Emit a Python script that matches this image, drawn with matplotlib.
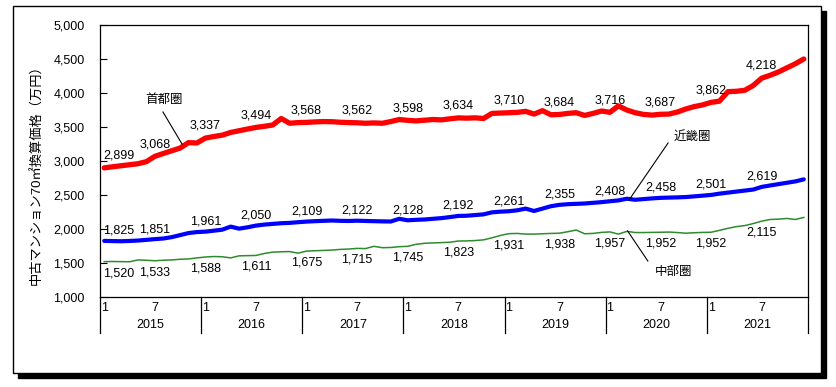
import numpy as np
import matplotlib.pyplot as plt
from matplotlib.patches import Rectangle

plt.rcParams['font.family'] = ['Liberation Sans', 'Noto Sans CJK JP', 'DejaVu Sans']

# monthly prices Jan 2015 - Dec 2021 (万円)
years = ['2015', '2016', '2017', '2018', '2019', '2020', '2021']

shutoken = [2899, 2915, 2930, 2945, 2960, 2990, 3068, 3110, 3150, 3190, 3270, 3265,
            3337, 3360, 3380, 3420, 3445, 3470, 3494, 3510, 3530, 3625, 3555, 3565,
            3568, 3575, 3580, 3578, 3570, 3565, 3562, 3555, 3560, 3555, 3580, 3610,
            3598, 3590, 3600, 3610, 3605, 3620, 3634, 3630, 3635, 3625, 3700, 3705,
            3710, 3715, 3730, 3690, 3740, 3680, 3684, 3700, 3710, 3670, 3700, 3735,
            3716, 3810, 3750, 3710, 3685, 3675, 3687, 3690, 3720, 3765, 3800, 3825,
            3862, 3880, 4020, 4025, 4040, 4110, 4218, 4260, 4310, 4370, 4430, 4500]

kinki = [1825, 1822, 1820, 1824, 1830, 1840, 1851, 1860, 1880, 1910, 1940, 1955,
         1961, 1975, 1990, 2035, 2005, 2025, 2050, 2065, 2075, 2085, 2090, 2100,
         2109, 2115, 2120, 2125, 2120, 2118, 2122, 2118, 2115, 2112, 2110, 2150,
         2128, 2135, 2140, 2150, 2160, 2175, 2192, 2195, 2205, 2215, 2245, 2255,
         2261, 2275, 2300, 2265, 2300, 2335, 2355, 2365, 2370, 2375, 2385, 2395,
         2408, 2420, 2445, 2430, 2440, 2450, 2458, 2462, 2465, 2470, 2480, 2490,
         2501, 2520, 2535, 2550, 2565, 2580, 2619, 2640, 2660, 2680, 2700, 2730]

chubu = [1520, 1522, 1520, 1518, 1545, 1540, 1533, 1540, 1545, 1555, 1560, 1575,
         1588, 1595, 1592, 1575, 1605, 1608, 1611, 1640, 1660, 1665, 1668, 1645,
         1675, 1680, 1685, 1690, 1700, 1705, 1715, 1712, 1745, 1725, 1728, 1740,
         1745, 1775, 1790, 1795, 1800, 1805, 1823, 1825, 1830, 1840, 1870, 1905,
         1931, 1935, 1925, 1925, 1930, 1935, 1938, 1960, 1985, 1930, 1935, 1950,
         1957, 1925, 1965, 1948, 1948, 1950, 1952, 1955, 1948, 1938, 1945, 1950,
         1952, 1980, 2010, 2035, 2050, 2080, 2115, 2140, 2145, 2155, 2140, 2170]

W, H = 836, 387
fig = plt.figure(figsize=(W / 100, H / 100), dpi=100)

# outer frame with drop shadow
fig.patches.append(Rectangle((18 / W, 1 - 378 / H), 808 / W, 367 / H, transform=fig.transFigure,
                             facecolor='black', edgecolor='black', zorder=0))
fig.patches.append(Rectangle((13 / W, 1 - 373 / H), 808 / W, 367 / H, transform=fig.transFigure,
                             facecolor='white', edgecolor='black', lw=1.0, zorder=1))

ax = fig.add_axes([100 / W, 1 - 297 / H, 708 / W, 272 / H])
ax.set_zorder(2)
ax.patch.set_alpha(0)

x = np.arange(len(shutoken))
ax.plot(x, shutoken, color='#ff0000', lw=3.8, solid_capstyle='round', zorder=3)
ax.plot(x, kinki, color='#0000ff', lw=3.0, solid_capstyle='round', zorder=3)
ax.plot(x, chubu, color='#2e8b2e', lw=1.1, zorder=3)

ax.set_xlim(-0.5, len(x) - 0.5)
ax.set_ylim(1000, 5000)
ax.set_yticks(np.arange(1000, 5001, 500))
ax.set_yticklabels([f'{v:,}' for v in range(1000, 5001, 500)], fontsize=9)
ax.tick_params(axis='y', direction='in', length=5, width=0.8, pad=11)
ax.set_xticks([])
for s in ax.spines.values():
    s.set_linewidth(0.9)
    s.set_color('black')

# data labels every 6 months
def labels(vals, dy, first_left=True):
    for i in range(0, len(vals), 6):
        ha = 'left' if (i == 0 and first_left) else 'center'
        ax.annotate(f'{vals[i]:,}', (i, vals[i]), xytext=(-1 if i == 0 else 0, dy),
                    textcoords='offset points', ha=ha, va='center', fontsize=9, zorder=4)

labels(shutoken, 8.8)
labels(kinki, 7.2)
labels(chubu, -8.3)

# series names with leader lines
ax.text(7.1, 3897, '首都圏', ha='center', va='center', fontsize=9)
ax.plot([6.97, 9.23], [3721, 3250], color='black', lw=0.8, zorder=4)
ax.text(69.74, 3353, '近畿圏', ha='center', va='center', fontsize=9)
ax.plot([66.9, 62.26], [3265, 2426], color='black', lw=0.8, zorder=4)
ax.text(67.5, 1368, '中部圏', ha='center', va='center', fontsize=9)
ax.plot([64.5, 62.1], [1529, 1971], color='black', lw=0.8, zorder=4)

# category axis: months and years
trans = ax.get_xaxis_transform()
for k, yr in enumerate(years):
    ax.text(12 * k, -0.039, '1', transform=trans, ha='center', va='center', fontsize=9)
    ax.text(12 * k + 6, -0.039, '7', transform=trans, ha='center', va='center', fontsize=9)
    ax.text(12 * k + 5.5, -0.103, yr, transform=trans, ha='center', va='center', fontsize=9)
for k in range(len(years) + 1):
    ax.plot([12 * k - 0.5, 12 * k - 0.5], [0, -0.132], transform=trans, color='black',
            lw=0.9, clip_on=False)

fig.text(37 / W, 1 - 172 / H, '中古マンション70㎡換算価格（万円）', rotation=90,
         ha='center', va='center', fontsize=9.5)

fig.savefig('out.png', dpi=100)
